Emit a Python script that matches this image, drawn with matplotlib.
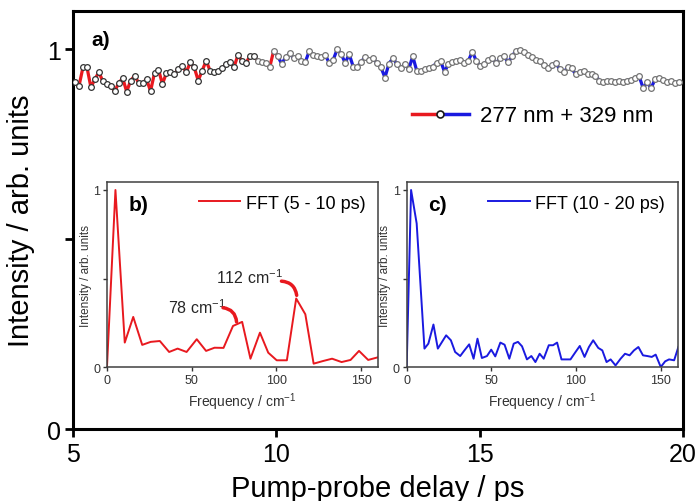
import numpy as np
import matplotlib
matplotlib.use('Agg')
import matplotlib.pyplot as plt
from matplotlib.lines import Line2D
from matplotlib.legend_handler import HandlerBase

plt.rcParams['font.family'] = ['Liberation Sans', 'DejaVu Sans']
plt.rcParams['mathtext.fontset'] = 'custom'
plt.rcParams['mathtext.rm'] = 'Liberation Sans'
plt.rcParams['mathtext.default'] = 'regular'

RED = '#e8191f'
BLUE = '#1a1ae0'

# pump-probe transient (normalised), 5 - 20 ps
signal = [
    0.914, 0.903, 0.952, 0.952, 0.899, 0.921, 0.939, 0.915, 0.908, 0.902,
    0.889, 0.911, 0.923, 0.888, 0.917, 0.930, 0.911, 0.910, 0.921, 0.889,
    0.937, 0.946, 0.908, 0.937,
    0.939, 0.934, 0.947, 0.956, 0.939, 0.965, 0.952, 0.917, 0.943, 0.969,
    0.943, 0.939, 0.943, 0.949, 0.961, 0.965, 0.952, 0.984, 0.969, 0.963,
    0.981, 0.981, 0.969, 0.967, 0.963,
    0.952, 0.996, 0.982, 0.961, 0.978, 0.989, 0.976, 0.982, 0.969, 0.967,
    0.996, 0.984, 0.982, 0.978, 0.984, 0.963, 0.972, 1.000, 0.987, 0.963,
    0.987, 0.954, 0.952, 0.967, 0.978, 0.972, 0.976,
    0.963, 0.952, 0.925, 0.961, 0.976, 0.961, 0.949, 0.961, 0.947, 0.981,
    0.943, 0.943, 0.947, 0.949, 0.954, 0.963, 0.969, 0.940, 0.961, 0.965,
    0.969, 0.972, 0.963, 0.969, 0.993, 0.969,
    0.956, 0.961, 0.972, 0.976, 0.963, 0.976, 0.981, 0.965, 0.981, 0.996,
    0.998, 0.993, 0.984, 0.978, 0.972, 0.969, 0.958, 0.949, 0.958, 0.963,
    0.947, 0.939, 0.952, 0.949, 0.934, 0.939, 0.943,
    0.934, 0.934, 0.930, 0.917, 0.912, 0.917, 0.917, 0.914, 0.917, 0.914,
    0.917, 0.919, 0.923, 0.928, 0.897, 0.912, 0.897, 0.921, 0.923, 0.919,
    0.912, 0.917, 0.911, 0.914,
]
delay = np.linspace(5.05, 19.9, len(signal))

# FFT of the 5 - 10 ps window
freq_b = [0, 5.0, 10.5, 15.5, 20.8, 25.8, 31.2, 36.7, 41.7, 47.0, 53.0, 58.5,
          63.5, 68.8, 74.4, 79.8, 84.7, 90.3, 95.2, 100.2, 106.2, 111.7, 117.1,
          122.0, 127.6, 132.9, 138.5, 143.8, 148.8, 154.2, 160.0]
fft_b = [0.0, 1.0, 0.138, 0.283, 0.125, 0.142, 0.147, 0.085, 0.104, 0.085,
         0.157, 0.091, 0.109, 0.108, 0.232, 0.255, 0.047, 0.194, 0.081, 0.038,
         0.038, 0.387, 0.298, 0.019, 0.034, 0.047, 0.028, 0.040, 0.091, 0.040,
         0.055]

# FFT of the 10 - 20 ps window
freq_c = [0, 2.6, 5.9, 10.5, 12.8, 15.8, 18.4, 23.3, 26.1, 28.6, 31.6, 34.1,
          36.9, 39.5, 41.8, 44.4, 47.4, 49.9, 52.3, 55.3, 57.8, 60.6, 63.2, 65.7,
          68.1, 71.0, 73.6, 76.0, 78.5, 80.9, 83.9, 86.4, 88.8, 91.4, 94.1, 96.7,
          99.7, 102.2, 105.0, 107.6, 110.1, 113.1, 115.5, 118.0, 120.4, 123.3,
          126.3, 128.9, 131.6, 134.2, 136.8, 139.5, 142.1, 144.7, 147.0, 150.0,
          152.6, 154.9, 157.9, 160.4]
fft_c = [0.0, 1.0, 0.811, 0.104, 0.132, 0.240, 0.104, 0.179, 0.151, 0.085,
         0.062, 0.094, 0.128, 0.047, 0.160, 0.051, 0.062, 0.098, 0.060, 0.138,
         0.126, 0.047, 0.132, 0.142, 0.117, 0.043, 0.062, 0.028, 0.075, 0.047,
         0.123, 0.123, 0.138, 0.043, 0.043, 0.043, 0.085, 0.119, 0.057, 0.113,
         0.151, 0.108, 0.094, 0.028, 0.043, 0.009, 0.047, 0.075, 0.066, 0.094,
         0.113, 0.066, 0.062, 0.057, 0.070, 0.0, 0.032, 0.043, 0.038, 0.113]


class HandlerRedBlue(HandlerBase):
    # red line - open circle - blue line, as in the original key
    def create_artists(self, legend, orig_handle, xdescent, ydescent,
                       width, height, fontsize, trans):
        y = height / 2 - ydescent
        x0 = -xdescent
        l1 = Line2D([x0, x0 + width / 2], [y, y], color=RED, lw=2.5)
        l2 = Line2D([x0 + width / 2, x0 + width], [y, y], color=BLUE, lw=2.5)
        m = Line2D([x0 + width / 2], [y], ls='none', marker='o', ms=5,
                   mfc='white', mec='0.1', mew=1.2)
        for a in (l1, l2, m):
            a.set_transform(trans)
        return [l1, l2, m]


fig = plt.figure(figsize=(6.96, 5.02), dpi=100)
ax = fig.add_axes([0.1049, 0.1434, 0.8764, 0.8326])

delay = np.asarray(delay)
signal = np.asarray(signal)
n_early = (delay <= 10.0).sum()
ax.plot(delay[:n_early + 1], signal[:n_early + 1], color=RED, lw=2.3, zorder=2)
ax.plot(delay[n_early:], signal[n_early:], color=BLUE, lw=2.3, zorder=2)
dark = delay < 9.5
ax.plot(delay[dark], signal[dark], ls='none', marker='o', ms=4.1,
        mfc='white', mec='0.2', mew=0.9, zorder=3)
ax.plot(delay[~dark], signal[~dark], ls='none', marker='o', ms=4.1,
        mfc='white', mec='0.45', mew=0.9, zorder=3)

ax.set_xlim(5, 20)
ax.set_ylim(0, 1.1)
ax.set_xticks([5, 10, 15, 20])
ax.set_yticks([0, 0.5, 1])
ax.set_yticklabels(['0', '', '1'])
ax.tick_params(direction='out', length=6, width=2, labelsize=18, pad=3)
for s in ax.spines.values():
    s.set_linewidth(2.2)
ax.set_xlabel('Pump-probe delay / ps', fontsize=21, labelpad=6)
ax.set_ylabel('Intensity / arb. units', fontsize=21, labelpad=8)
ax.text(0.03, 0.955, 'a)', transform=ax.transAxes, fontsize=15,
        fontweight='bold', va='top')
ax.legend([object()], ['277 nm + 329 nm'],
          handler_map={object: HandlerRedBlue()},
          loc='center right', bbox_to_anchor=(0.985, 0.749), frameon=False,
          fontsize=16, handlelength=2.6, handletextpad=0.5)


def inset(rect, freq, amp, color, label, tag):
    ia = fig.add_axes(rect)
    ia.plot(freq, amp, color=color, lw=1.4, label=label)
    ia.set_xlim(0, 160)
    ia.set_ylim(0, 1.045)
    ia.set_xticks([0, 50, 100, 150])
    ia.set_yticks([0, 0.5, 1])
    ia.set_yticklabels(['0', '', '1'])
    ia.tick_params(direction='out', length=3, width=1, labelsize=9, pad=2,
                   colors='0.2')
    for s in ia.spines.values():
        s.set_linewidth(1.1)
        s.set_color('0.25')
    ia.set_xlabel('Frequency / cm$^{-1}$', fontsize=10, labelpad=3, color='0.2')
    ia.set_ylabel('Intensity / arb. units', fontsize=8.5, labelpad=1,
                  color='0.2')
    ia.text(0.08, 0.93, tag, transform=ia.transAxes, fontsize=15,
            fontweight='bold', va='top')
    ia.legend(loc='upper right', frameon=False, fontsize=13, handlelength=2.3,
              handletextpad=0.3, borderaxespad=0.3)
    return ia


ax_b = inset([0.1537, 0.2669, 0.3894, 0.3685], freq_b, fft_b, RED,
             'FFT (5 - 10 ps)', 'b)')
inset([0.5843, 0.2669, 0.3894, 0.3685], freq_c, fft_c, BLUE,
      'FFT (10 - 20 ps)', 'c)')

# peak labels in panel b
ax_b.text(70.5, 0.34, '78 cm$^{-1}$', fontsize=11.5, ha='right', va='center',
          color='0.15')
ax_b.annotate('', xy=(76.5, 0.255), xytext=(68.5, 0.335),
              arrowprops=dict(arrowstyle='-', color=RED, lw=2.5,
                              shrinkA=0, shrinkB=0,
                              connectionstyle='arc3,rad=-0.4'))
ax_b.text(104, 0.51, '112 cm$^{-1}$', fontsize=11.5, ha='right', va='center',
          color='0.15')
ax_b.annotate('', xy=(112, 0.405), xytext=(103, 0.485),
              arrowprops=dict(arrowstyle='-', color=RED, lw=2.5,
                              shrinkA=0, shrinkB=0,
                              connectionstyle='arc3,rad=-0.4'))

fig.savefig('out.png', dpi=100)
